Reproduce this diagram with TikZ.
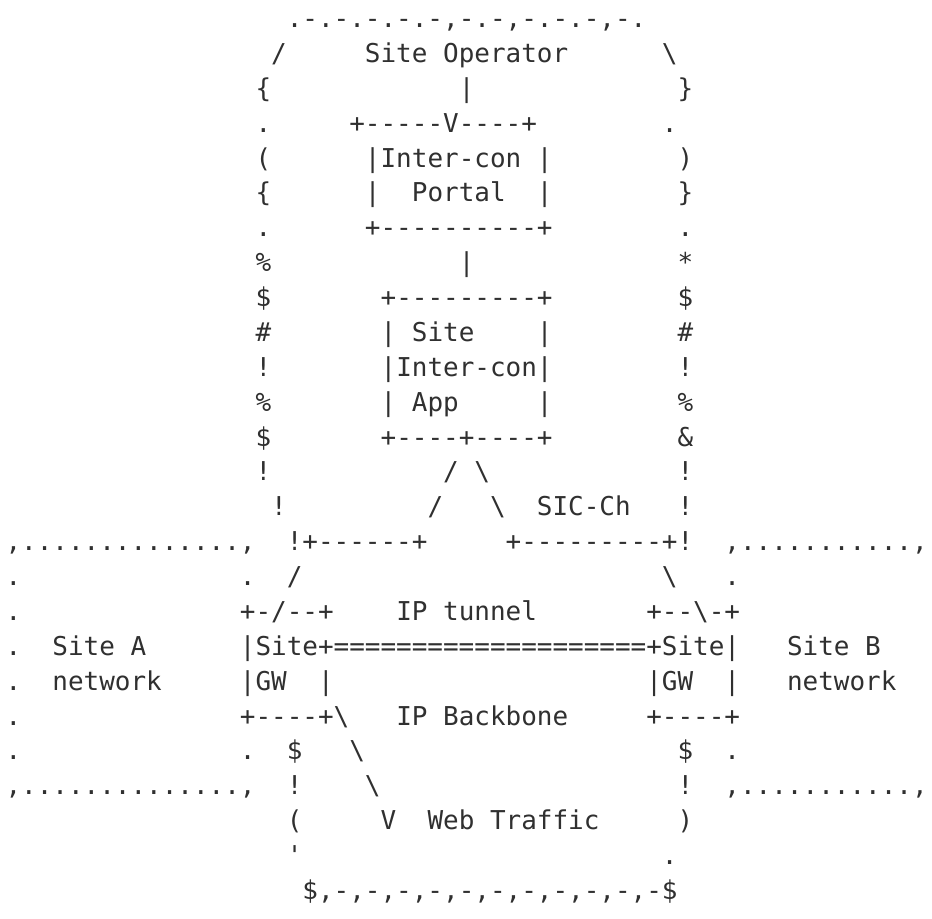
\documentclass[tikz,border=0pt]{standalone}
\usepackage{fontspec}
\setmonofont{DejaVu Sans Mono}
\definecolor{ink}{HTML}{303030}
\tikzset{asc/.style={anchor=base west, inner sep=0pt, outer sep=0pt, text=ink,
  font=\ttfamily\fontsize{19.47}{23}\selectfont}}
\newcommand\Ln[3]{\node[asc] (n#1x#2) at ({5.5+15.63*#2},{27.5+34.88*(#1-1)}) {#3};}
\newcommand\bs{\textbackslash}
\begin{document}
\begin{tikzpicture}[x=0.75pt,y=-0.75pt]
\useasboundingbox (0,0) rectangle (932,918);
\fill[white] (0,0) rectangle (932,918);
\clip (0,0) rectangle (932,918);
% line 1
\Ln{1}{18}{.-.-.-.-.-,-.-,-.-.-,-.}
% line 2
\Ln{2}{17}{/}
\Ln{2}{23}{Site Operator}
\Ln{2}{42}{\bs}
% line 3
\Ln{3}{16}{\{}
\Ln{3}{29}{|}
\Ln{3}{43}{\}}
% line 4
\Ln{4}{16}{.}
\Ln{4}{22}{+-----V----+}
\Ln{4}{42}{.}
% line 5
\Ln{5}{16}{(}
\Ln{5}{23}{|Inter-con}
\Ln{5}{34}{|}
\Ln{5}{43}{)}
% line 6
\Ln{6}{16}{\{}
\Ln{6}{23}{|}
\Ln{6}{26}{Portal}
\Ln{6}{34}{|}
\Ln{6}{43}{\}}
% line 7
\Ln{7}{16}{.}
\Ln{7}{23}{+----------+}
\Ln{7}{43}{.}
% line 8
\Ln{8}{16}{\%}
\Ln{8}{29}{|}
\Ln{8}{43}{*}
% line 9
\Ln{9}{16}{\$}
\Ln{9}{24}{+---------+}
\Ln{9}{43}{\$}
% line 10
\Ln{10}{16}{\#}
\Ln{10}{24}{|}
\Ln{10}{26}{Site}
\Ln{10}{34}{|}
\Ln{10}{43}{\#}
% line 11
\Ln{11}{16}{!}
\Ln{11}{24}{|Inter-con|}
\Ln{11}{43}{!}
% line 12
\Ln{12}{16}{\%}
\Ln{12}{24}{|}
\Ln{12}{26}{App}
\Ln{12}{34}{|}
\Ln{12}{43}{\%}
% line 13
\Ln{13}{16}{\$}
\Ln{13}{24}{+----+----+}
\Ln{13}{43}{\&}
% line 14
\Ln{14}{16}{!}
\Ln{14}{28}{/}
\Ln{14}{30}{\bs}
\Ln{14}{43}{!}
% line 15
\Ln{15}{17}{!}
\Ln{15}{27}{/}
\Ln{15}{31}{\bs}
\Ln{15}{34}{SIC-Ch}
\Ln{15}{43}{!}
% line 16
\Ln{16}{0}{,..............,}
\Ln{16}{18}{!+------+}
\Ln{16}{32}{+---------+!}
\Ln{16}{46}{,...........,}
% line 17
\Ln{17}{0}{.}
\Ln{17}{15}{.}
\Ln{17}{18}{/}
\Ln{17}{42}{\bs}
\Ln{17}{46}{.}
% line 18
\Ln{18}{0}{.}
\Ln{18}{15}{+-/--+}
\Ln{18}{25}{IP tunnel}
\Ln{18}{41}{+--\bs-+}
% line 19
\Ln{19}{0}{.}
\Ln{19}{3}{Site A}
\Ln{19}{15}{|Site+====================+Site|}
\Ln{19}{50}{Site B}
% line 20
\Ln{20}{0}{.}
\Ln{20}{3}{network}
\Ln{20}{15}{|GW}
\Ln{20}{20}{|}
\Ln{20}{41}{|GW}
\Ln{20}{46}{|}
\Ln{20}{50}{network}
% line 21
\Ln{21}{0}{.}
\Ln{21}{15}{+----+\bs}
\Ln{21}{25}{IP Backbone}
\Ln{21}{41}{+----+}
% line 22
\Ln{22}{0}{.}
\Ln{22}{15}{.}
\Ln{22}{18}{\$}
\Ln{22}{22}{\bs}
\Ln{22}{43}{\$}
\Ln{22}{46}{.}
% line 23
\Ln{23}{0}{,..............,}
\Ln{23}{18}{!}
\Ln{23}{23}{\bs}
\Ln{23}{43}{!}
\Ln{23}{46}{,...........,}
% line 24
\Ln{24}{18}{(}
\Ln{24}{24}{V}
\Ln{24}{27}{Web Traffic}
\Ln{24}{43}{)}
% line 25
\Ln{25}{18}{'}
\Ln{25}{42}{.}
% line 26
\Ln{26}{19}{\$,-,-,-,-,-,-,-,-,-,-,-\$}
\end{tikzpicture}
\end{document}
